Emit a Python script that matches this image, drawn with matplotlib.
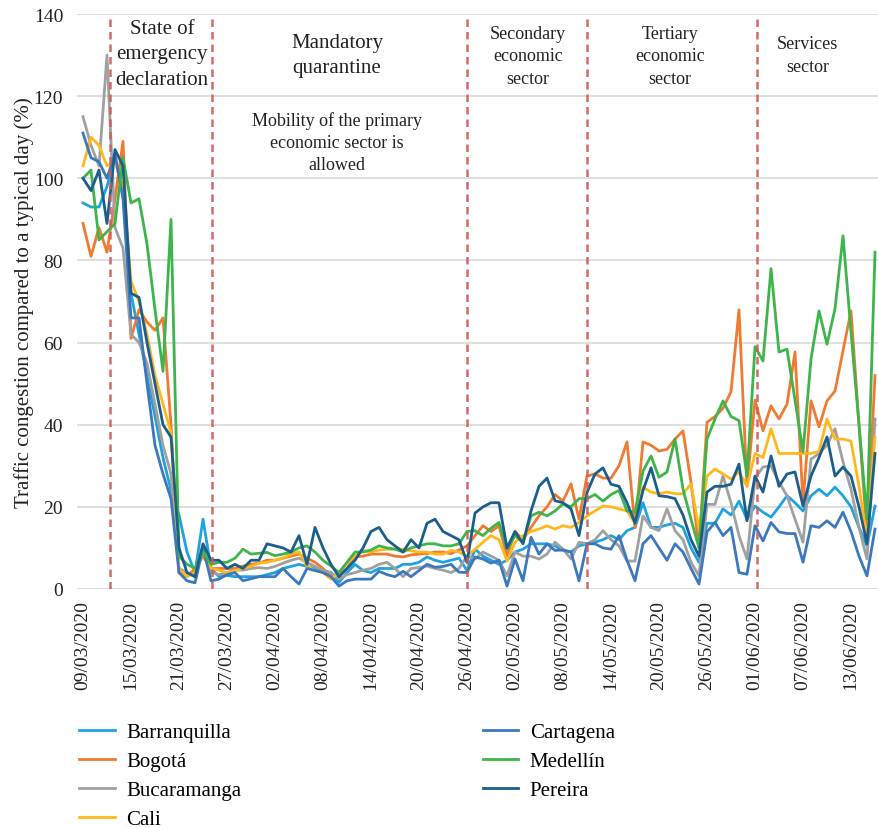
import numpy as np
import matplotlib
matplotlib.use("Agg")
import matplotlib.pyplot as plt

plt.rcParams["font.family"] = ["Liberation Serif", "DejaVu Serif"]

# daily values, 09/03/2020 .. 16/06/2020 (100 days)
barranquilla = [94, 93, 93, 98, 105, 96, 72, 62, 52, 42, 32, 24, 18, 9, 4, 17, 5,
                3, 3.3, 3, 3, 3, 3, 3.5, 4, 5, 5.5, 6, 5.5, 5, 4.5, 4, 1.6, 4, 6, 4.5, 4,
                5, 5, 5, 6, 6, 6.5, 7.8, 7, 6.5, 7, 7.5,
                4.5, 9.7, 8, 7, 6, 7, 9, 9.7, 11, 11, 11, 10.5, 9.4, 9, 10.5, 11,
                11.4, 12, 13, 12, 14.2, 15, 21, 15, 15, 15.6, 16, 15, 10, 6.5, 16, 16,
                19.5, 18, 21.4, 17, 20.2,
                18.7, 17.5, 20, 22.7, 21, 19, 22.7, 24.3, 22.7, 24.8, 22.7, 20, 15, 10.5, 20.2]
bogota = [89, 81, 88, 82, 95, 109, 61, 68, 65, 63, 66, 40, 4, 3, 5, 8, 5,
          5, 5, 5, 5.6, 6, 6.3, 7, 7, 7.5, 8, 8.5, 7.5, 6.5, 5, 3, 3.5, 5, 7.8, 8, 8.5,
          8.5, 8.5, 8, 7.8, 8.3, 8.5, 8.6, 9, 9, 8.6, 9.5,
          10.5, 13, 15.4, 14, 15.4, 8, 14, 12, 15, 17.8, 20, 23, 21.4, 25.6, 17, 27.5,
          28, 27, 27, 30, 35.8, 15, 35.8, 35, 33.6, 34, 36.5, 38.5, 26, 10, 40.6, 42,
          44, 48, 68, 25, 46,
          38.5, 44.6, 41.4, 45, 57.7, 21, 45.8, 39.5, 45.8, 48.2, 58, 67.7, 40, 13, 52]
bucaramanga = [115, 108, 103, 130, 88, 83, 62, 60, 55, 45, 35, 28, 5, 4, 3, 10, 4,
               3.5, 4, 4.6, 4.6, 5, 5.2, 5, 5.5, 6.3, 7, 7.5, 6.5, 5.5, 4.5, 4, 2.4, 3.5, 4,
               4.6, 5, 6, 6.5, 5, 3, 5, 5.2, 5.6, 5, 4.6, 4, 5,
               8, 7.3, 9, 8, 7, 3.2, 9, 8, 8, 7.3, 8.5, 11.4, 9.7, 7.3, 11.4, 11,
               12, 14.2, 12, 10.5, 6.8, 6.8, 17.8, 15, 14.2, 19.5, 14.2, 12, 6.5, 3.2,
               20.6, 20.6, 27.5, 21, 13, 7.3, 27,
               29.7, 30, 26, 22.7, 17, 11.4, 31.6, 33, 35, 39, 31, 24.3, 15, 7.3, 41.4]
cali = [103, 110, 108, 103, 104, 98, 75, 70, 62, 52, 45, 38, 5, 3, 4, 9, 5,
        4.6, 4, 4.5, 5, 5.5, 6.3, 6.5, 7, 7.5, 8.5, 9, 5.6, 4.5, 4, 2.4, 4, 6.3, 8, 9.4,
        9, 9.5, 9.7, 9.7, 9.7, 9.3, 9, 9, 8.5, 8.5, 9.4, 9,
        8, 9.7, 11.4, 13, 12, 6.8, 11.4, 13, 14, 14.6, 15.4, 14.6, 15.4, 15, 16.2, 17.8,
        19, 20.2, 20, 19.5, 19, 16, 24.8, 23.6, 23.2, 23.6, 23.2, 23.2, 25.6, 14.6,
        27.5, 29.2, 28, 26.8, 28.5, 25, 33,
        32, 39, 33, 33, 33, 33, 33, 33.5, 41.4, 36.5, 36.5, 36, 25, 12, 37]
cartagena = [111, 105, 104, 100, 106, 95, 66, 66, 50, 35, 28, 22, 4, 2, 1.5, 10, 2,
             2.4, 3.5, 4, 2, 2.5, 3, 3, 3, 5, 3, 1.2, 5, 4.5, 4, 3, 0.7, 2, 2.4, 2.4, 2.4,
             4.3, 3.5, 3, 4.3, 3, 4.5, 6, 5.3, 5.5, 6, 4.1,
             4, 7.8, 7.3, 6.3, 7, 0.7, 7.3, 2, 12.6, 8.5, 11, 9.4, 9.5, 9, 2, 11,
             11, 10, 9.7, 13, 7, 2, 11, 13, 10, 7, 11, 9, 5, 1.2, 13.9, 16.2,
             13, 15, 4, 3.6, 15.4,
             11.7, 16.2, 13.9, 13.5, 13.5, 6.5, 15.4, 15, 16.6, 15, 18.7, 14, 8, 3.2, 14.6]
medellin = [100, 102, 85, 87, 89, 105, 94, 95, 84, 68, 53, 90, 8, 6, 5, 9, 6,
            6.5, 6.5, 7.5, 9.7, 8.5, 8.7, 8.9, 8.1, 8.5, 9, 10, 10.5, 9, 7, 5.6, 4, 6.5, 9,
            9, 9.5, 10.5, 10, 9.7, 9, 10, 10.5, 11, 11, 10.5, 10.5, 11,
            14, 14.2, 13, 14.8, 16.2, 9.7, 13, 11.4, 17.8, 18.7, 17.8, 19, 20.7, 20, 22, 22,
            23, 21.4, 23, 24, 19, 18.7, 28.7, 32.4, 27.2, 28.5, 36.5, 24.3, 17, 10,
            36.5, 41.4, 45.8, 42, 41, 27.5, 59,
            55.5, 78, 57.7, 58.4, 46, 33.4, 56, 67.7, 59.6, 68.2, 86, 62.6, 40, 17, 82]
pereira = [100, 97, 102, 89, 107, 103, 72, 71, 60, 50, 40, 37, 10, 4, 3, 11, 7,
           7, 5, 6, 5, 7, 7, 11, 10.5, 10, 9, 13, 6, 15, 10, 6, 3, 5, 7, 10, 14,
           15, 12, 10.5, 9, 12, 10, 16, 17, 14, 13, 12,
           6.5, 18.5, 20, 21, 21, 10, 14, 11, 19, 25, 27, 21.5, 21, 19.5, 13, 23.5,
           28, 29.5, 25.5, 25, 21, 16, 24, 29.5, 22.7, 22.5, 22, 18, 12, 8, 23.6, 25,
           25, 25.5, 30.4, 16.6, 27.5,
           23.6, 32.4, 25, 28, 28.5, 20.2, 27.5, 32, 37, 27.5, 29.7, 27.5, 20, 11, 33]

cities = ["Barranquilla", "Bogotá", "Bucaramanga", "Cali", "Cartagena", "Medellín", "Pereira"]
series = [barranquilla, bogota, bucaramanga, cali, cartagena, medellin, pereira]
colors = ["#1FA3E0", "#F07A30", "#A0A0A0", "#FFB81C", "#3C78BE", "#3DB54A", "#1B5E8C"]

tick_labels = ["09/03/2020", "15/03/2020", "21/03/2020", "27/03/2020", "02/04/2020",
               "08/04/2020", "14/04/2020", "20/04/2020", "26/04/2020", "02/05/2020",
               "08/05/2020", "14/05/2020", "20/05/2020", "26/05/2020", "01/06/2020",
               "07/06/2020", "13/06/2020"]

# phase boundaries (day index)
phase_lines = [3.4, 16.1, 48, 63, 84.2]

fig = plt.figure(figsize=(8.79, 8.29), dpi=100)
ax = fig.add_axes([77 / 879, 239 / 829, 802 / 879, 575 / 829])

days = np.arange(len(barranquilla))
for name, vals, c in zip(cities, series, colors):
    ax.plot(days, vals, color=c, lw=2.0, label=name, solid_joinstyle="round")

for xl in phase_lines:
    ax.axvline(xl, color="#CD5B55", lw=1.8, ls=(0, (3, 2)), alpha=0.9, zorder=5)

ax.set_xlim(-0.75, 99.5)
ax.set_ylim(0, 140)
ax.set_yticks(range(0, 141, 20))
ax.set_xticks(range(0, len(tick_labels) * 6, 6))
ax.set_xticklabels(tick_labels, rotation=90)
ax.tick_params(axis="both", length=0, labelsize=14, colors="#222222")
ax.tick_params(axis="x", pad=8)
ax.tick_params(axis="y", pad=10)
ax.grid(axis="y", color="#D9D9D9", lw=1.2)
ax.set_axisbelow(True)
for s in ax.spines.values():
    s.set_visible(False)

ax.set_ylabel("Traffic congestion compared to a typical day (%)", fontsize=15,
              color="#222222", labelpad=0)

big = dict(fontsize=15, ha="center", va="center", color="#222222", linespacing=1.45)
small = dict(fontsize=13, ha="center", va="center", color="#222222", linespacing=1.4)
ax.text(9.9, 130.3, "State of\nemergency\ndeclaration", **big)
ax.text(31.75, 130, "Mandatory\nquarantine", **big)
ax.text(31.75, 108.8, "Mobility of the primary\neconomic sector is\nallowed", **small)
ax.text(55.6, 129.8, "Secondary\neconomic\nsector", **small)
ax.text(73.4, 129.8, "Tertiary\neconomic\nsector", **small)
ax.text(90.6, 130, "Services\nsector", **small)

fig.legend(loc="upper left", bbox_to_anchor=(71 / 879, 1 - 715 / 829), ncol=2,
           frameon=False, fontsize=15, handlelength=1.7, handletextpad=0.55,
           columnspacing=11.6, labelspacing=0.45, borderaxespad=0)

fig.savefig("out.png", dpi=100)
